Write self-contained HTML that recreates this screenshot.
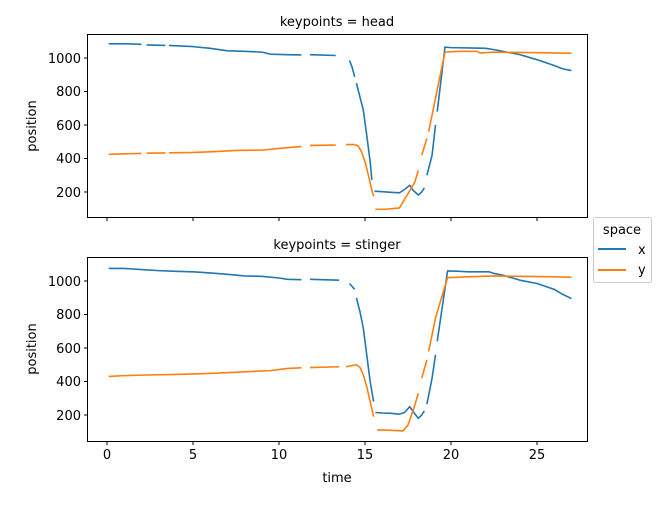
<!DOCTYPE html>
<html><head><meta charset="utf-8"><style>
body{margin:0;background:#fff}
svg{font-family:"DejaVu Sans","Liberation Sans",sans-serif;font-size:13px;fill:#000}
.d{fill:none;stroke-width:1.6;vector-effect:non-scaling-stroke;stroke-linejoin:round}
.b{stroke:#1f77b4}.o{stroke:#ff7f0e}
</style></head><body>
<svg width="658" height="500" viewBox="0 0 658 500" xmlns="http://www.w3.org/2000/svg">
<rect width="658" height="500" fill="#fff"/>
<text x="337" y="26" text-anchor="middle">keypoints = head</text>
<text x="337" y="249" text-anchor="middle">keypoints = stinger</text>
<text transform="translate(36,126) rotate(-90)" text-anchor="middle">position</text>
<text transform="translate(36,349) rotate(-90)" text-anchor="middle">position</text>
<text x="337" y="482" text-anchor="middle">time</text>
<clipPath id="c1"><rect x="88" y="34" width="499" height="183"/></clipPath>
<clipPath id="c2"><rect x="88" y="257" width="499" height="184"/></clipPath>
<g clip-path="url(#c1)"><g transform="translate(107,58) scale(17.2,-0.1675) translate(0,-1000)">
<polyline class="d b" points="0.1,1085 1,1085 2,1082"/>
<polyline class="d b" points="2.3,1078 3.4,1075"/>
<polyline class="d b" points="3.6,1075 5,1068 6,1058 7,1043 8,1040 9,1035 9.5,1023 10.5,1020 11.3,1018"/>
<polyline class="d b" points="11.8,1020 13.3,1015"/>
<polyline class="d b" points="14.1,985 14.25,945 14.4,887"/>
<polyline class="d b" points="14.5,850 14.7,770 14.9,690 15.1,540 15.3,380 15.4,272"/>
<polyline class="d b" points="15.55,205 16,202 16.5,198 17,195 17.3,215 17.6,240 17.8,210 18.1,182 18.3,200 18.45,225"/>
<polyline class="d b" points="18.6,300 18.9,420 19.1,600"/>
<polyline class="d b" points="19.2,680 19.65,1065 20,1062 21,1060 22,1058 22.5,1050 23,1040 24,1020 25,990 26,955 26.5,935 27,925"/>
<polyline class="d o" points="0.1,425 1,428 2,430"/>
<polyline class="d o" points="2.3,432 3.4,433"/>
<polyline class="d o" points="3.6,434 5,436 6,440 7,445 7.5,448 9,450 10,460 11.3,472"/>
<polyline class="d o" points="11.8,478 13.3,480"/>
<polyline class="d o" points="13.9,483 14.4,483 14.6,475 14.8,440 15.0,380 15.2,300 15.4,210 15.5,175"/>
<polyline class="d o" points="15.6,97 16.2,97 17.0,105 17.5,190 17.9,260 18.1,330"/>
<polyline class="d o" points="18.3,420 18.6,520"/>
<polyline class="d o" points="18.7,560 19.1,760 19.65,1035 20.5,1040 21.5,1040 21.7,1030 22.5,1035 24,1033 26,1030 27,1028"/>
</g></g>
<g clip-path="url(#c2)"><g transform="translate(107,281) scale(17.2,-0.1675) translate(0,-1000)">
<polyline class="d b" points="0.1,1075 1,1075 2,1068 3,1062 4,1058 5,1055 6,1048 7,1040 8,1030 9,1028 10,1018 10.5,1010 11.3,1008"/>
<polyline class="d b" points="11.8,1010 13.5,1005"/>
<polyline class="d b" points="14.1,985 14.4,950"/>
<polyline class="d b" points="14.5,900 14.7,820 14.9,720 15.1,560 15.3,400 15.5,280"/>
<polyline class="d b" points="15.6,215 16,212 16.5,210 17,205 17.3,215 17.6,250 17.8,220 18.1,180 18.3,200 18.45,225"/>
<polyline class="d b" points="18.6,265 18.9,420 19.1,560"/>
<polyline class="d b" points="19.2,640 19.8,1060 20.5,1058 21,1055 22.2,1055 22.5,1045 23,1035 24,1005 25,985 26,950 26.5,920 27,895"/>
<polyline class="d o" points="0.1,430 1,435 2,438 4,442 6,448 8,458 9.5,465 10.5,478 11.3,482"/>
<polyline class="d o" points="11.8,483 13.5,488"/>
<polyline class="d o" points="13.9,488 14.5,500 14.7,485 14.9,440 15.1,370 15.3,280 15.5,190"/>
<polyline class="d o" points="15.7,110 16.2,110 17.2,105 17.5,140 17.9,260 18.1,330"/>
<polyline class="d o" points="18.3,420 18.6,530"/>
<polyline class="d o" points="18.7,580 19.1,780 19.8,1020 21,1025 22.5,1030 24,1028 26,1025 27,1022"/>
</g></g>
<g fill="none" stroke="#000" stroke-width="1">
<rect x="87.5" y="34.5" width="500" height="183"/>
<rect x="87.5" y="257.5" width="500" height="184"/>
</g>
<g stroke="#000" stroke-width="1">
<line x1="84" x2="87.5" y1="58" y2="58"/><line x1="84" x2="87.5" y1="91.5" y2="91.5"/><line x1="84" x2="87.5" y1="125" y2="125"/><line x1="84" x2="87.5" y1="158.5" y2="158.5"/><line x1="84" x2="87.5" y1="192" y2="192"/>
<line x1="84" x2="87.5" y1="281" y2="281"/><line x1="84" x2="87.5" y1="314.5" y2="314.5"/><line x1="84" x2="87.5" y1="348" y2="348"/><line x1="84" x2="87.5" y1="381.5" y2="381.5"/><line x1="84" x2="87.5" y1="415" y2="415"/>
<line x1="107" x2="107" y1="217.5" y2="221"/><line x1="193" x2="193" y1="217.5" y2="221"/><line x1="279" x2="279" y1="217.5" y2="221"/><line x1="365" x2="365" y1="217.5" y2="221"/><line x1="451" x2="451" y1="217.5" y2="221"/><line x1="537" x2="537" y1="217.5" y2="221"/>
<line x1="107" x2="107" y1="441.5" y2="445"/><line x1="193" x2="193" y1="441.5" y2="445"/><line x1="279" x2="279" y1="441.5" y2="445"/><line x1="365" x2="365" y1="441.5" y2="445"/><line x1="451" x2="451" y1="441.5" y2="445"/><line x1="537" x2="537" y1="441.5" y2="445"/>
</g>
<g text-anchor="end">
<text x="81" y="63">1000</text><text x="81" y="96">800</text><text x="81" y="130">600</text><text x="81" y="163">400</text><text x="81" y="197">200</text>
<text x="81" y="286">1000</text><text x="81" y="319">800</text><text x="81" y="353">600</text><text x="81" y="386">400</text><text x="81" y="420">200</text>
</g>
<g text-anchor="middle">
<text x="107" y="459">0</text><text x="193" y="459">5</text><text x="279" y="459">10</text><text x="365" y="459">15</text><text x="451" y="459">20</text><text x="537" y="459">25</text>
</g>
<rect x="593.5" y="217.5" width="58" height="65" rx="2" fill="#fff" stroke="#ccc"/>
<text x="622" y="234" text-anchor="middle">space</text>
<line x1="598" x2="626" y1="249" y2="249" stroke="#1f77b4" stroke-width="2"/>
<text x="638" y="254">x</text>
<line x1="598" x2="626" y1="270" y2="270" stroke="#ff7f0e" stroke-width="2"/>
<text x="638" y="274">y</text>
</svg>
</body></html>
